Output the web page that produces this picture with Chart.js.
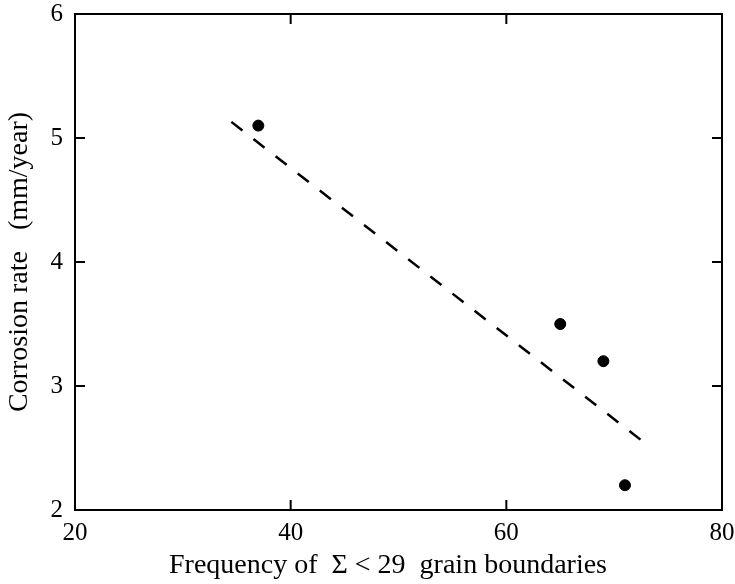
<!DOCTYPE html>
<html>
<head>
<meta charset="utf-8">
<script src="https://cdn.jsdelivr.net/npm/chart.js@4.4.1/dist/chart.umd.min.js"></script>
<style>
  html, body { margin: 0; padding: 0; background: #fff; }
  #wrap { width: 735px; height: 584px; }
</style>
</head>
<body>
<div id="wrap"><canvas id="c" width="735" height="584"></canvas></div>
<script>
const freqValues = [37, 65, 69, 71];
const corrosionValues = [5.1, 3.5, 3.2, 2.2];
const fitX = [34.5, 72.7];
const fitY = [5.13, 2.55];
const xTicks = [20, 40, 60, 80];
const yTicks = [2, 3, 4, 5, 6];
const xTitle = 'Frequency of  \u03A3 < 29  grain boundaries   ';
const yTitle = 'Corrosion rate   (mm/year)';

const pts = freqValues.map((x, i) => ({ x: x, y: corrosionValues[i] }));
const fit = fitX.map((x, i) => ({ x: x, y: fitY[i] }));

const framePlugin = {
  id: 'frame',
  afterDatasetsDraw(chart) {
    const { ctx, chartArea: a, scales } = chart;
    ctx.save();
    ctx.strokeStyle = '#000';
    ctx.lineWidth = 2;
    ctx.strokeRect(a.left, a.top, a.right - a.left, a.bottom - a.top);
    const L = 10;
    ctx.beginPath();
    xTicks.forEach(v => {
      const px = scales.x.getPixelForValue(v);
      ctx.moveTo(px, a.bottom); ctx.lineTo(px, a.bottom - L);
      ctx.moveTo(px, a.top); ctx.lineTo(px, a.top + L);
    });
    yTicks.forEach(v => {
      const py = scales.y.getPixelForValue(v);
      ctx.moveTo(a.left, py); ctx.lineTo(a.left + L, py);
      ctx.moveTo(a.right, py); ctx.lineTo(a.right - L, py);
    });
    ctx.stroke();
    ctx.restore();
  }
};

new Chart(document.getElementById('c'), {
  type: 'scatter',
  data: {
    datasets: [
      {
        data: fit,
        showLine: true,
        borderColor: '#000',
        borderWidth: 2.5,
        borderDash: [14, 14],
        pointRadius: 0,
        fill: false
      },
      {
        data: pts,
        backgroundColor: '#000',
        borderColor: '#000',
        pointRadius: 5.5,
        pointStyle: 'circle'
      }
    ]
  },
  plugins: [framePlugin],
  options: {
    responsive: false,
    animation: false,
    layout: { padding: { left: 0, top: 14, right: 13, bottom: 0 } },
    plugins: { legend: { display: false }, tooltip: { enabled: false } },
    scales: {
      x: {
        type: 'linear',
        min: 20, max: 80,
        afterBuildTicks(s) { s.ticks = xTicks.map(v => ({ value: v })); },
        afterFit(s) { s.height = 74; s.paddingLeft = 0; s.paddingRight = 0; },
        grid: { display: true, drawOnChartArea: false, drawTicks: false },
        border: { display: false },
        ticks: { color: '#000', padding: 8, maxRotation: 0, font: { family: 'Liberation Serif', size: 25 } },
        title: { display: true, text: xTitle, color: '#000', padding: { top: 0, bottom: 2 },
                 font: { family: 'Liberation Serif', size: 28 } }
      },
      y: {
        type: 'linear',
        min: 2, max: 6,
        afterBuildTicks(s) { s.ticks = yTicks.map(v => ({ value: v })); },
        afterFit(s) { s.width = 75; s.paddingTop = 0; s.paddingBottom = 0; },
        grid: { display: true, drawOnChartArea: false, drawTicks: false },
        border: { display: false },
        ticks: { color: '#000', padding: 12, font: { family: 'Liberation Serif', size: 25 } },
        title: { display: true, text: yTitle, color: '#000', padding: { top: 3, bottom: 0 },
                 font: { family: 'Liberation Serif', size: 28 } }
      }
    }
  }
});
</script>
</body>
</html>
